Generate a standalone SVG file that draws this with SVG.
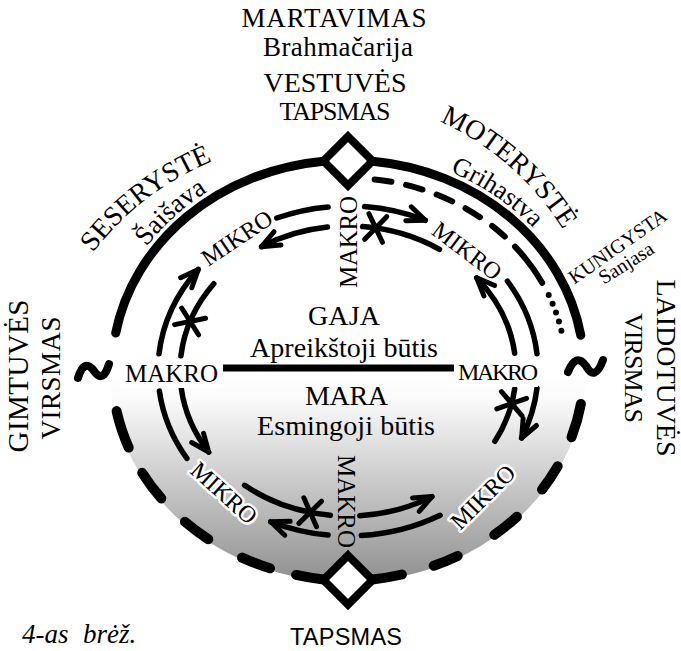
<svg xmlns="http://www.w3.org/2000/svg" width="681" height="651" viewBox="0 0 681 651">
<style>
.t{font-family:"Liberation Serif","Times New Roman",serif;fill:#000}
.s{font-family:"Liberation Sans",Arial,sans-serif;fill:#000}
.halo{stroke:#fff;stroke-width:5;stroke-linejoin:round;paint-order:stroke fill}
.main{fill:none;stroke:#000;stroke-width:9;stroke-linecap:round}
.dash{fill:none;stroke:#000;stroke-width:10;stroke-linecap:round}
.dl{fill:none;stroke:#000;stroke-width:6;stroke-linecap:round}
.ring{fill:none;stroke:#000;stroke-width:5.5;stroke-linecap:round}
.arr{marker-end:url(#ah)}
.xm{fill:none;stroke:#000;stroke-width:5;stroke-linecap:round}
.dia{fill:#fff;stroke:#000;stroke-width:8;stroke-linejoin:miter}
.tl{fill:none;stroke:#000;stroke-width:8;stroke-linecap:round}
</style>
<defs>
<linearGradient id="gr" gradientUnits="userSpaceOnUse" x1="0" y1="372" x2="0" y2="585">
<stop offset="0" stop-color="#fff"/>
<stop offset="0.12" stop-color="#fbfbfb"/>
<stop offset="1" stop-color="#8e8e8e"/>
</linearGradient>
<marker id="ah" markerUnits="userSpaceOnUse" markerWidth="30" markerHeight="30" viewBox="-20 -15 30 30" refX="0" refY="0" orient="auto" overflow="visible">
<path d="M-18,-7.5 L0,0 L-18,7.5" fill="none" stroke="#000" stroke-width="5" stroke-linecap="round" stroke-linejoin="round"/>
</marker>
<path id="xs" class="xm" d="M-9,-13 L9,13 M-9,13 L9,-13"/>
<path id="pSes" d="M61.8,305.3 A280,280 0 0 1 271.3,144.9"/>
<path id="pSai" d="M105.1,349.1 A244,218 0 0 1 311.9,154.4"/>
<path id="pMot" d="M380.2,102.5 A280,280 0 0 1 589.7,286.1"/>
<path id="pGri" d="M348.4,152 A244,218 0 0 1 584.9,317.6"/>
</defs>

<g id="mara-field">
<path d="M110,370 A238,212 0 0 0 586,370 Z" fill="url(#gr)"/>
</g>

<g id="connectors">
<path id="divider" d="M222,368 L457,368" fill="none" stroke="#000" stroke-width="7"/>
<path id="arc-upper-left" class="main" d="M115.7,333 A236,210 0 0 1 323.5,161.2"/>
<path id="arc-upper-right" class="main" d="M372.5,161.2 A236,210 0 0 1 580.8,335.3"/>
<g id="arc-lower-dashed">
<path class="dash" d="M116.6,411.1 A236,210 0 0 0 128.7,447.6"/>
<path class="dash" d="M142.2,472.8 A236,210 0 0 0 161.3,498.4"/>
<path class="dash" d="M184.9,521.8 A236,210 0 0 0 208.3,539.2"/>
<path class="dash" d="M242,557.6 A236,210 0 0 0 270,568.2"/>
<path class="dash" d="M296.1,574.9 A236,210 0 0 0 323.5,579.5"/>
<path class="dash" d="M580.9,403.9 A236,210 0 0 1 571.5,437.3"/>
<path class="dash" d="M557.7,466.3 A236,210 0 0 1 542,489.6"/>
<path class="dash" d="M516.9,516.7 A236,210 0 0 1 494.3,534.8"/>
<path class="dash" d="M457.7,555.9 A236,210 0 0 1 433.7,565.7"/>
<path class="dash" d="M401.9,574.5 A236,210 0 0 1 372.5,579.5"/>
</g>
<g id="kunigysta-line">
<path class="dl" d="M374.6,179.4 A218,192 0 0 1 504.8,236.6" stroke-dasharray="17 15"/>
<path class="dl" d="M515,246.6 A218,192 0 0 1 542.2,282.8"/>
<path class="dl" d="M548.7,295 A218,192 0 0 1 563.3,340" stroke-width="6.5" stroke-dasharray="0 9.5"/>
</g>
<g id="flows">
<path class="ring" d="M328.1,206.9 A190,165 0 0 0 276.8,218"/>
<path class="ring arr" d="M327.5,227.1 A168,145 0 0 0 261.5,246.7"/>
<path class="ring arr" d="M364.6,206.6 A190,165 0 0 1 425.3,220.3"/>
<path class="ring" d="M362.6,226.6 A168,145 0 0 1 439.5,249.4"/>
<path class="ring arr" d="M514.7,353.3 A168,145 0 0 0 476.7,277.8"/>
<path class="ring" d="M537,353.8 A190,165 0 0 0 507.4,281.1"/>
<path class="ring" d="M514.7,388.7 A168,145 0 0 1 494.9,441.3"/>
<path class="ring arr" d="M537,388.2 A190,165 0 0 1 521.6,438.1"/>
<path class="ring arr" d="M359.7,515.7 A168,145 0 0 0 432,496.6"/>
<path class="ring" d="M361.3,535.6 A190,165 0 0 0 440.1,515.3"/>
<path class="ring" d="M330.4,515.2 A168,145 0 0 1 244.6,485.3"/>
<path class="ring arr" d="M328.1,535.1 A190,165 0 0 1 270.7,521.7"/>
<path class="ring arr" d="M159,353.8 A190,165 0 0 1 198.3,269.4"/>
<path class="ring" d="M180.9,355.8 A168,145 0 0 1 213.8,283.7"/>
<path class="ring arr" d="M181.3,388.7 A168,145 0 0 0 208.7,452.1"/>
<path class="ring" d="M159.4,391.1 A190,165 0 0 0 186.9,458.4"/>
<use href="#xs" transform="translate(375.7,228) rotate(9.5)"/>
<use href="#xs" transform="translate(511.7,403.6) rotate(105)"/>
<use href="#xs" transform="translate(310.2,512.3) rotate(11)"/>
<use href="#xs" transform="translate(190.1,321.4) rotate(-67)"/>
</g>
</g>

<g id="vestuves-node">
<path class="dia" d="M348,136.5 L372.5,161 L348,185.5 L323.5,161 Z"/>
<text class="t" x="334" y="27" text-anchor="middle" font-size="27" textLength="185">MARTAVIMAS</text>
<text class="t" x="338" y="56" text-anchor="middle" font-size="27" textLength="150">Brahmačarija</text>
<text class="t" x="335" y="92" text-anchor="middle" font-size="28" textLength="143">VESTUVĖS</text>
<text class="t" x="335" y="120" text-anchor="middle" font-size="26" textLength="111">TAPSMAS</text>
</g>

<g id="tapsmas-node">
<path class="dia" d="M348,555.5 L372.5,580 L348,604.5 L323.5,580 Z"/>
<text class="s" x="346" y="645" text-anchor="middle" font-size="23.5" textLength="112">TAPSMAS</text>
</g>

<g id="gimtuves-node">
<path class="tl" d="M78,378 Q84,358 94,371 Q103,384 109,364"/>
<text class="t" transform="translate(28,376) rotate(-90)" text-anchor="middle" font-size="29" textLength="153">GIMTUVĖS</text>
<text class="t" transform="translate(60,378) rotate(-90)" text-anchor="middle" font-size="27" textLength="123">VIRSMAS</text>
</g>

<g id="laidotuves-node">
<path class="tl" d="M568,372 Q576,352 586,366 Q595,382 603,360"/>
<text class="t" transform="translate(657,368) rotate(90)" text-anchor="middle" font-size="28" textLength="177">LAIDOTUVĖS</text>
<text class="t" transform="translate(625,368) rotate(90)" text-anchor="middle" font-size="26" textLength="110">VIRSMAS</text>
</g>

<g id="seseryste-node">
<text class="t" font-size="28"><textPath href="#pSes" startOffset="50%" text-anchor="middle">SESERYSTĖ</textPath></text>
<text class="t" font-size="27"><textPath href="#pSai" startOffset="50%" text-anchor="middle">Šaišava</textPath></text>
</g>

<g id="moteryste-node">
<text class="t" font-size="28"><textPath href="#pMot" startOffset="50%" text-anchor="middle">MOTERYSTĖ</textPath></text>
<text class="t" font-size="26"><textPath href="#pGri" startOffset="50%" text-anchor="middle">Grihastva</textPath></text>
</g>

<g id="kunigyste-node">
<text class="t" transform="translate(621.5,251.7) rotate(-35)" text-anchor="middle" font-size="20">KUNIGYSTA</text>
<text class="t" transform="translate(629.7,268.6) rotate(-32)" text-anchor="middle" font-size="20">Sanjasa</text>
</g>

<g id="gaja-node">
<text class="t" x="344" y="325" text-anchor="middle" font-size="28" textLength="72">GAJA</text>
<text class="t" x="344" y="357" text-anchor="middle" font-size="28" textLength="188">Apreikštoji būtis</text>
</g>

<g id="mara-node">
<text class="t" x="346.5" y="405" text-anchor="middle" font-size="28" textLength="83">MARA</text>
<text class="t" x="346" y="435" text-anchor="middle" font-size="28" textLength="178">Esmingoji būtis</text>
</g>

<g id="makro-labels">
<rect x="120" y="361" width="103" height="27" fill="#fff"/>
<text class="t" x="125" y="382" font-size="25" textLength="93">MAKRO</text>
<rect x="454" y="360" width="84" height="27" fill="#fff"/>
<text class="t" x="458" y="380" font-size="24" textLength="80">MAKRO</text>
<text class="t" transform="translate(357,288) rotate(-90)" font-size="25" textLength="92">MAKRO</text>
<text class="t" transform="translate(338,455) rotate(90)" font-size="25" textLength="93">MAKRO</text>
</g>

<g id="mikro-labels">
<text class="t" transform="translate(237,238) rotate(-34)" y="8" text-anchor="middle" font-size="24">MIKRO</text>
<text class="t" transform="translate(467,251) rotate(37)" y="8" text-anchor="middle" font-size="24">MIKRO</text>
<text class="t halo" transform="translate(224,493) rotate(42)" y="8" text-anchor="middle" font-size="24">MIKRO</text>
<text class="t halo" transform="translate(483,497) rotate(-45)" y="8" text-anchor="middle" font-size="24">MIKRO</text>
</g>

<g id="caption">
<text class="t" x="22" y="643" font-size="27" font-style="italic">4-as <tspan x="83">brėž.</tspan></text>
</g>
</svg>
